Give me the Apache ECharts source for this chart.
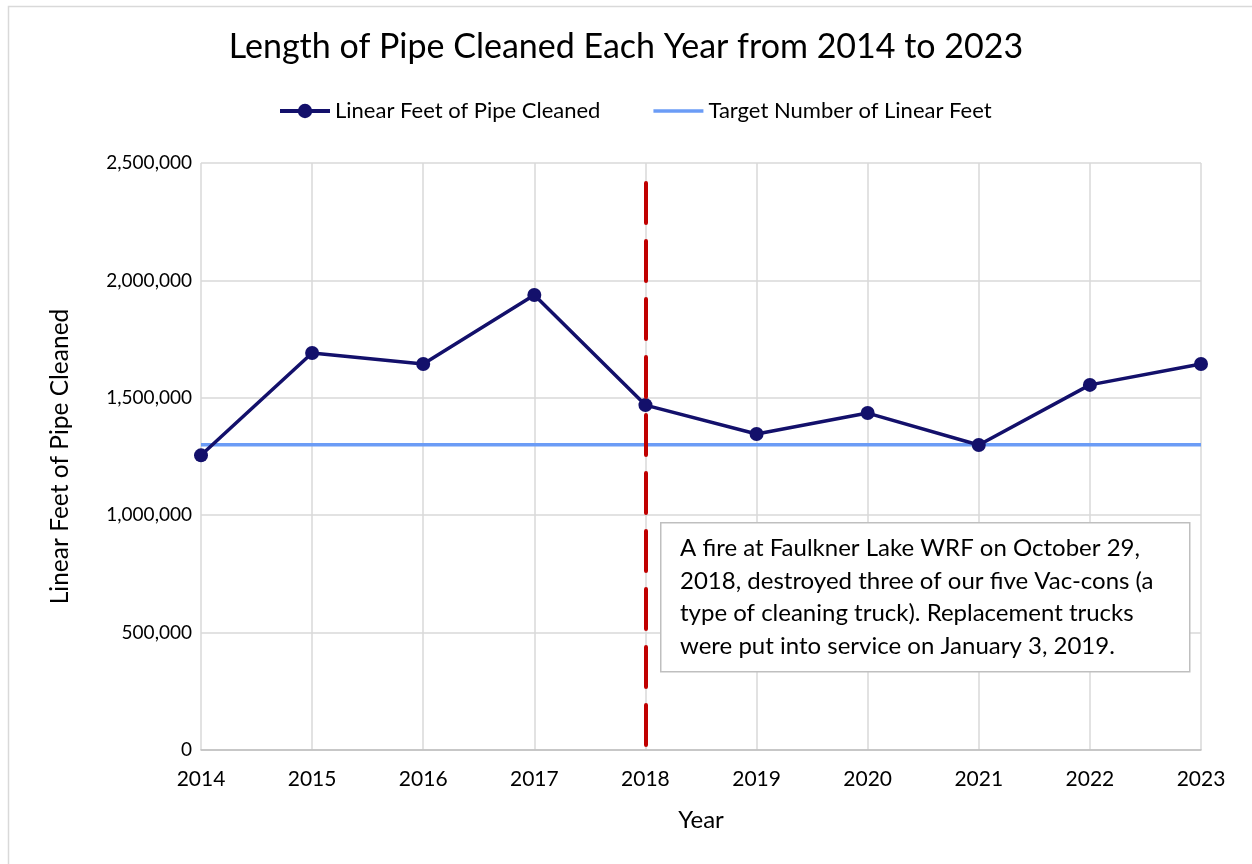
<!DOCTYPE html>
<html>
<head>
<meta charset="utf-8">
<script src="https://cdn.jsdelivr.net/npm/echarts@6/dist/echarts.min.js"></script>
<style>html,body{margin:0;padding:0;background:#fff}#c{width:1252px;height:864px}</style>
</head>
<body>
<div id="c"></div>
<script>
const years = ['2014','2015','2016','2017','2018','2019','2020','2021','2022','2023'];
const pipeCleaned = [1255000, 1691000, 1644000, 1938000, 1469000, 1346000, 1435000, 1299000, 1555000, 1644000];
const target = [1300000, 1300000, 1300000, 1300000, 1300000, 1300000, 1300000, 1300000, 1300000, 1300000];
const yTicks = { min: 0, max: 2500000, interval: 500000 };
const fireYear = '2018';
const fireLineTop = 2415000;
const noteLines = [
  'A fire at Faulkner Lake WRF on October 29,',
  '2018, destroyed three of our five Vac-cons (a',
  'type of cleaning truck). Replacement trucks',
  'were put into service on January 3, 2019.'
];
const FONT = 'Lato';
const chart = echarts.init(document.getElementById('c'));
chart.setOption({
  animation: false,
  backgroundColor: '#fff',
  title: {
    text: 'Length of Pipe Cleaned Each Year from 2014 to 2023',
    left: 'center', top: 25,
    textStyle: { fontFamily: FONT, fontSize: 34, fontWeight: 'normal', color: '#000' }
  },
  legend: {
    top: 95, left: 273, itemGap: 53, itemWidth: 50, itemHeight: 18,
    textStyle: { fontFamily: FONT, fontSize: 22, color: '#000', padding: [0,0,0,0] },
    data: [
      { name: 'Linear Feet of Pipe Cleaned', lineStyle: { width: 4 } },
      { name: 'Target Number of Linear Feet', icon: 'path://M0,0 L50,0 L50,3.5 L0,3.5 Z' }
    ]
  },
  grid: { left: 201, right: 51, top: 163, bottom: 114, containLabel: false },
  xAxis: {
    type: 'category', data: years, boundaryGap: false,
    name: 'Year', nameLocation: 'middle', nameGap: 58,
    nameTextStyle: { fontFamily: FONT, fontSize: 24, color: '#000' },
    axisLine: { lineStyle: { color: '#bfbfbf', width: 1.5 } },
    axisTick: { show: false },
    axisLabel: { fontFamily: FONT, fontSize: 21, color: '#000', margin: 19 },
    splitLine: { show: true, lineStyle: { color: '#d9d9d9', width: 1.5 } }
  },
  yAxis: {
    type: 'value', min: yTicks.min, max: yTicks.max, interval: yTicks.interval,
    name: 'Linear Feet of Pipe Cleaned', nameLocation: 'middle', nameGap: 128,
    nameTextStyle: { fontFamily: FONT, fontSize: 24.5, color: '#000' },
    axisLine: { show: false }, axisTick: { show: false },
    axisLabel: { fontFamily: FONT, fontSize: 19, color: '#000', margin: 9,
      formatter: v => v.toLocaleString('en-US') },
    splitLine: { lineStyle: { color: '#d9d9d9', width: 1.5 } }
  },
  series: [
    {
      name: 'Target Number of Linear Feet', type: 'line', data: target,
      symbol: 'none', lineStyle: { color: '#6b9cf6', width: 3.5 },
      itemStyle: { color: '#6b9cf6' }, z: 2
    },
    {
      name: 'Linear Feet of Pipe Cleaned', type: 'line', data: pipeCleaned,
      symbol: 'circle', symbolSize: 14,
      lineStyle: { color: '#13106b', width: 3.5 },
      itemStyle: { color: '#13106b' }, z: 3,
      markLine: {
        silent: true, symbol: 'none', label: { show: false },
        lineStyle: { color: '#c00000', width: 4, type: [40, 18], cap: 'round' },
        data: [[ { coord: [fireYear, fireLineTop] }, { coord: [fireYear, 0] } ]],
        z: 4
      }
    }
  ],
  graphic: [
    { type: 'rect', left: 6, top: 4, shape: { width: 1260, height: 880 }, style: { fill: 'none', stroke: '#d9d9d9', lineWidth: 1.5 }, silent: true },
    { type: 'rect', left: 660, top: 522, z: 100, shape: { width: 529, height: 149 }, style: { fill: '#fff', stroke: '#bfbfbf', lineWidth: 1.5 } },
    { type: 'text', left: 680, top: 532, z: 101, style: { text: noteLines.join('\n'), fontFamily: FONT, fontSize: 24, lineHeight: 32.7, fill: '#000' } }
  ]
});
</script>
</body>
</html>
